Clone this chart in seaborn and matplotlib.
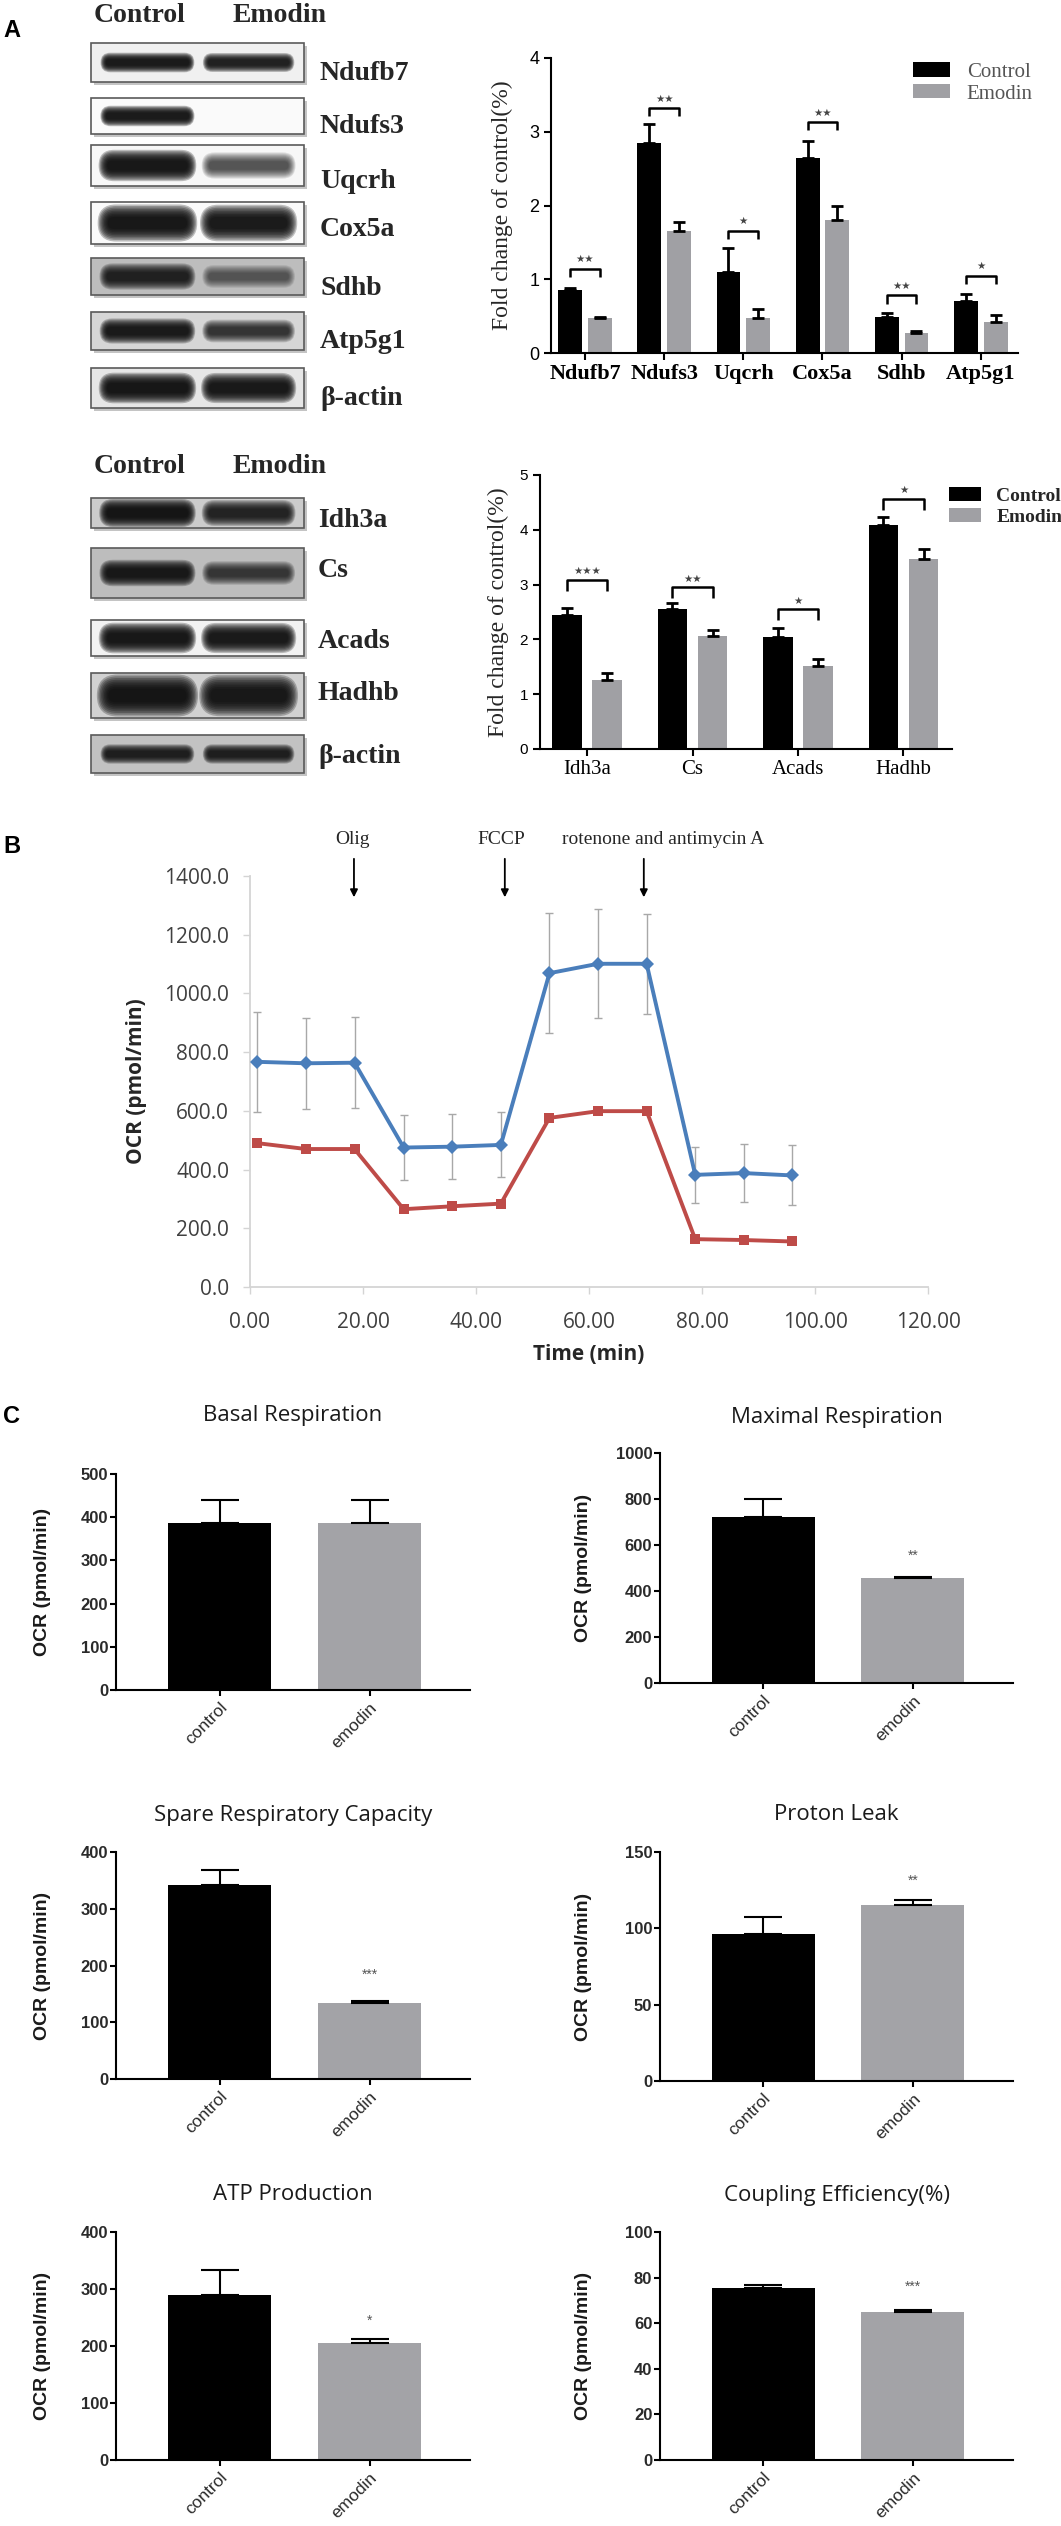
import numpy as np
import pandas as pd
import matplotlib
matplotlib.use('Agg')
import matplotlib.pyplot as plt
import seaborn as sns
from matplotlib.patches import Rectangle, FancyBboxPatch

sns.set_theme(style='white')
SERIF = ['Liberation Serif', 'DejaVu Serif']
SANS = ['Liberation Sans', 'DejaVu Sans']
OPEN = ['Open Sans', 'DejaVu Sans']
plt.rcParams['font.family'] = SANS

# ---------------- data ----------------
groups = ['Control', 'Emodin']

etc_proteins = ['Ndufb7', 'Ndufs3', 'Uqcrh', 'Cox5a', 'Sdhb', 'Atp5g1']
etc_control = [0.85, 2.85, 1.10, 2.65, 0.49, 0.71]
etc_control_err = [0.03, 0.25, 0.33, 0.23, 0.05, 0.09]
etc_emodin = [0.48, 1.65, 0.47, 1.80, 0.27, 0.42]
etc_emodin_err = [0.01, 0.13, 0.13, 0.20, 0.03, 0.10]
etc_bracket = [1.14, 3.32, 1.66, 3.13, 0.78, 1.05]
etc_stars = ['**', '**', '*', '**', '**', '*']

tca_proteins = ['Idh3a', 'Cs', 'Acads', 'Hadhb']
tca_control = [2.44, 2.56, 2.04, 4.08]
tca_control_err = [0.13, 0.10, 0.16, 0.15]
tca_emodin = [1.26, 2.06, 1.51, 3.47]
tca_emodin_err = [0.13, 0.11, 0.14, 0.18]
tca_bracket = [3.08, 2.95, 2.55, 4.56]
tca_stars = ['***', '**', '*', '*']

time_min = [1.3, 9.9, 18.5, 27.2, 35.8, 44.4, 53.0, 61.6, 70.2, 78.8, 87.4, 96.0]
ocr_control = [767, 762, 764, 475, 478, 484, 1069, 1101, 1101, 382, 388, 380]
ocr_control_err = [170, 155, 155, 112, 110, 111, 205, 185, 170, 95, 100, 102]
ocr_emodin = [490, 470, 470, 265, 275, 284, 576, 599, 599, 163, 160, 155]
inj_labels = ['Olig', 'FCCP', 'rotenone and antimycin A']
inj_times = [18.4, 45.1, 69.7]

c_titles = ['Basal Respiration', 'Maximal Respiration', 'Spare Respiratory Capacity',
            'Proton Leak', 'ATP Production', 'Coupling Efficiency(%)']
c_labels = ['control', 'emodin']
c_control = [386, 723, 341, 96.3, 289, 75.5]
c_control_err = [54, 78, 27, 11.1, 44, 1.1]
c_emodin = [387, 455, 134, 115.3, 206, 64.8]
c_emodin_err = [53, 5, 3, 3.3, 7, 0.9]
c_stars = ['', '**', '***', '**', '*', '***']
c_star_y = [0, 552, 183, 131, 245, 76]
c_ymax = [500, 1000, 400, 150, 400, 100]
c_ystep = [100, 200, 100, 50, 100, 20]

blot1_names = ['Ndufb7', 'Ndufs3', 'Uqcrh', 'Cox5a', 'Sdhb', 'Atp5g1', 'β-actin']
blot1_bg = [0.94, 0.98, 0.97, 0.98, 0.74, 0.84, 0.90]
blot1_ctrl = [0.95, 0.95, 1.0, 1.0, 0.75, 0.9, 1.0]
blot1_emod = [0.85, 0.0, 0.45, 0.95, 0.35, 0.6, 0.95]
blot2_names = ['Idh3a', 'Cs', 'Acads', 'Hadhb', 'β-actin']
blot2_bg = [0.80, 0.74, 0.95, 0.82, 0.76]
blot2_ctrl = [1.0, 0.9, 1.0, 1.0, 0.8]
blot2_emod = [0.75, 0.55, 0.95, 0.95, 0.8]

# ---------------- layout ----------------
W, H = 1061, 2526
fig = plt.figure(figsize=(W / 100, H / 100), dpi=100, facecolor='white')


def rect(x0, y0, x1, y1):
    return [x0 / W, 1 - y1 / H, (x1 - x0) / W, (y1 - y0) / H]


ov = fig.add_axes([0, 0, 1, 1])
ov.set_xlim(0, W)
ov.set_ylim(H, 0)
ov.axis('off')

for lab, x, y in [('A', 3, 37), ('B', 3, 853), ('C', 3, 1423)]:
    ov.text(x, y, lab, ha='left', va='baseline', family=SANS, weight='bold', size=17, color='black')


def band(xa, xb, yc, bh, inten):
    if inten <= 0:
        return
    xc = (xa + xb) / 2
    scales = np.linspace(1.7, 0.55, 9)
    for sc in scales:
        hh = bh * sc
        ww = (xb - xa) + (sc - 1) * bh * 0.8
        ov.add_patch(FancyBboxPatch((xc - ww / 2, yc - hh / 2), ww, hh,
                                    boxstyle=f'round,pad=0,rounding_size={hh / 2:.2f}',
                                    facecolor='#0a0a0a', edgecolor='none',
                                    alpha=0.26 * inten, zorder=3))


def blot(x0, y0, x1, y1, bg, ci, ei, thick):
    ov.add_patch(Rectangle((x0 + 3, y0 + 3), x1 - x0, y1 - y0, facecolor='#c4c4c4', edgecolor='none', zorder=1))
    ov.add_patch(Rectangle((x0, y0), x1 - x0, y1 - y0, facecolor=str(bg), edgecolor='#5a5a5a', lw=1.2, zorder=2))
    w = x1 - x0
    h = y1 - y0
    yc = (y0 + y1) / 2
    band(x0 + 0.06 * w, x0 + 0.47 * w, yc, h * thick * (0.7 + 0.3 * ci), ci)
    band(x0 + 0.54 * w, x0 + 0.94 * w, yc, h * thick * (0.7 + 0.3 * ei), ei)


blot1_y = [(43, 82), (98, 134), (145, 186), (202, 244), (258, 295), (312, 350), (368, 408)]
blot1_base = [80, 133, 188, 236, 295, 348, 405]
blot1_thick = [0.3, 0.34, 0.45, 0.52, 0.45, 0.4, 0.45]
blot2_y = [(498, 528), (548, 598), (620, 656), (673, 718), (735, 773)]
blot2_base = [527, 577, 648, 700, 763]
blot2_thick = [0.55, 0.32, 0.5, 0.55, 0.32]

for hy in [22, 473]:
    ov.text(140, hy, 'Control', ha='center', va='baseline', family=SERIF, weight='bold', size=20)
    ov.text(280, hy, 'Emodin', ha='center', va='baseline', family=SERIF, weight='bold', size=20)

for i, name in enumerate(blot1_names):
    y0, y1 = blot1_y[i]
    blot(91, y0, 304, y1, blot1_bg[i], blot1_ctrl[i], blot1_emod[i], blot1_thick[i])
    ov.text(320, blot1_base[i], name, ha='left', va='baseline', family=SERIF, weight='bold', size=20)
for i, name in enumerate(blot2_names):
    y0, y1 = blot2_y[i]
    blot(91, y0, 304, y1, blot2_bg[i], blot2_ctrl[i], blot2_emod[i], blot2_thick[i])
    ov.text(318, blot2_base[i], name, ha='left', va='baseline', family=SERIF, weight='bold', size=20)

pal = {'Control': 'black', 'Emodin': '#A0A0A4'}


def style_axes(ax, lw=1.5):
    sns.despine(ax=ax)
    for s in ['left', 'bottom']:
        ax.spines[s].set_linewidth(lw)
        ax.spines[s].set_color('black')
    ax.tick_params(axis='both', direction='out', length=5, width=lw, color='black',
                   bottom=True, left=True, labelcolor='black')


def grouped(ax, prots, ctrl, cerr, emod, eerr, brk, stars, width, gap, d, soff):
    df = pd.DataFrame({'protein': prots * 2, 'group': ['Control'] * len(prots) + ['Emodin'] * len(prots),
                       'value': ctrl + emod})
    sns.barplot(data=df, x='protein', y='value', hue='group', hue_order=groups, palette=pal,
                width=width, gap=gap, errorbar=None, saturation=1, linewidth=0, ax=ax)
    bc, be = ax.containers[0], ax.containers[1]
    xc = [b.get_x() + b.get_width() / 2 for b in bc]
    xe = [b.get_x() + b.get_width() / 2 for b in be]
    ax.errorbar(xc, ctrl, yerr=[np.zeros(len(ctrl)), cerr], fmt='none', ecolor='black',
                elinewidth=2, capsize=4.5, capthick=2, zorder=4)
    ax.errorbar(xe, emod, yerr=[np.zeros(len(emod)), eerr], fmt='none', ecolor='black',
                elinewidth=2, capsize=4.5, capthick=2, zorder=4)
    for i in range(len(prots)):
        hgt = brk[i]
        ax.plot([xc[i], xc[i], xe[i], xe[i]], [hgt - d, hgt, hgt, hgt - d], color='black', lw=1.8,
                solid_capstyle='butt', zorder=4)
        ax.text((xc[i] + xe[i]) / 2, hgt + soff, '★' * len(stars[i]), ha='center', va='center',
                family=['DejaVu Sans'], size=7.5, color='#444444')
    style_axes(ax)
    ax.set_xlabel('')
    return ax


# ---- A1 ----
ax1 = fig.add_axes(rect(551, 58, 1018, 353))
grouped(ax1, etc_proteins, etc_control, etc_control_err, etc_emodin, etc_emodin_err,
        etc_bracket, etc_stars, 0.75, 0.2, 0.11, 0.13)
ax1.set_xlim(-0.43, 5.47)
ax1.set_ylim(0, 4)
ax1.set_yticks(range(0, 5))
ax1.set_yticklabels([str(v) for v in range(0, 5)], fontfamily=SANS, fontsize=13)
ax1.set_xticks(range(len(etc_proteins)))
ax1.set_xticklabels(etc_proteins, fontfamily=SERIF, fontweight='bold', fontsize=16)
ax1.tick_params(axis='x', pad=3)
ax1.set_ylabel('Fold change of control(%)', fontfamily=SERIF, fontsize=17)
ax1.yaxis.set_label_coords(-0.103, 0.5)
ax1.yaxis.label.set_va('center')
hd, lb = ax1.get_legend_handles_labels()
ax1.legend(hd, lb, loc='upper left', bbox_to_anchor=(0.775, 0.985), frameon=False,
           prop=dict(family=SERIF, size=15), labelcolor='#555555', handlelength=1.78,
           handleheight=0.67, handletextpad=0.8, labelspacing=0.12, borderpad=0, borderaxespad=0)

# ---- A2 ----
ax2 = fig.add_axes(rect(540, 475, 952, 749))
grouped(ax2, tca_proteins, tca_control, tca_control_err, tca_emodin, tca_emodin_err,
        tca_bracket, tca_stars, 0.76, 0.26, 0.2, 0.16)
ax2.set_xlim(-0.446, 3.46)
ax2.set_ylim(0, 5)
ax2.set_yticks(range(0, 6))
ax2.set_yticklabels([str(v) for v in range(0, 6)], fontfamily=SANS, fontsize=11)
ax2.set_xticks(range(len(tca_proteins)))
ax2.set_xticklabels(tca_proteins, fontfamily=SERIF, fontsize=15)
ax2.tick_params(axis='x', pad=3)
ax2.set_ylabel('Fold change of control(%)', fontfamily=SERIF, fontsize=17)
ax2.yaxis.set_label_coords(-0.102, 0.5)
ax2.yaxis.label.set_va('center')
hd, lb = ax2.get_legend_handles_labels()
ax2.legend(hd, lb, loc='upper left', bbox_to_anchor=(0.993, 0.955), frameon=False,
           prop=dict(family=SERIF, size=14, weight='bold'), handlelength=1.65,
           handleheight=0.67, handletextpad=0.77, labelspacing=0.19, borderpad=0, borderaxespad=0)

# ---- B ----
axB = fig.add_axes(rect(250, 876, 928, 1287))
axB.errorbar(time_min, ocr_control, yerr=ocr_control_err, fmt='none', ecolor='#A8A8A8',
             elinewidth=1, capsize=3, capthick=1, zorder=1)
dfB = pd.DataFrame({'time': time_min * 2, 'ocr': ocr_control + ocr_emodin,
                    'group': ['Control'] * len(time_min) + ['Emodin'] * len(time_min)})
sns.lineplot(data=dfB, x='time', y='ocr', hue='group', style='group', hue_order=groups,
             markers={'Control': 'D', 'Emodin': 's'}, dashes=False, errorbar=None,
             palette={'Control': '#4A7EBB', 'Emodin': '#BE4B48'}, lw=2.8, markersize=7.5,
             markeredgewidth=0, legend=False, ax=axB, zorder=3)
axB.set_xlim(0, 120)
axB.set_ylim(0, 1400)
axB.set_xticks(np.arange(0, 121, 20))
axB.set_xticklabels([f'{v:.2f}' for v in np.arange(0, 121, 20)], fontfamily=OPEN, fontsize=15)
axB.set_yticks(np.arange(0, 1401, 200))
axB.set_yticklabels([f'{v:.1f}' for v in np.arange(0, 1401, 200)], fontfamily=OPEN, fontsize=15)
sns.despine(ax=axB)
for s in ['left', 'bottom']:
    axB.spines[s].set_color('#D4D4D4')
    axB.spines[s].set_linewidth(1.3)
axB.tick_params(axis='both', direction='out', length=5, width=1, color='#D4D4D4',
                labelcolor='#404040', bottom=True, left=True)
axB.tick_params(axis='x', pad=13)
axB.tick_params(axis='y', pad=10)
axB.set_xlabel('Time (min)', fontfamily=OPEN, fontweight='bold', fontsize=15, color='#262626')
axB.xaxis.set_label_coords(0.5, -0.165)
axB.xaxis.label.set_va('center')
axB.set_ylabel('OCR (pmol/min)', fontfamily=OPEN, fontweight='bold', fontsize=15, color='#262626')
axB.yaxis.set_label_coords(-0.167, 0.5)
axB.yaxis.label.set_va('center')
inj_label_x = [18.2, 44.4, 73.1]
for t, lx, lab in zip(inj_times, inj_label_x, inj_labels):
    axB.annotate('', xy=(t, 1318), xytext=(t, 1468), annotation_clip=False,
                 arrowprops=dict(arrowstyle='-|>', color='black', lw=1.3, mutation_scale=11))
    axB.text(lx, 1523, lab, ha='center', va='center', family=SERIF, size=14, clip_on=False)

# ---- C ----
c_rects = [(116, 1474, 470, 1690), (660, 1453, 1013, 1683), (116, 1852, 470, 2079),
           (660, 1852, 1013, 2081), (116, 2232, 470, 2460), (660, 2232, 1013, 2460)]
c_title_y = [1416, 1417, 1815, 1815, 2195, 2195]
c_ylab_x = [42, 583, 42, 583, 42, 583]
for i in range(6):
    x0, y0, x1, y1 = c_rects[i]
    ax = fig.add_axes(rect(x0, y0, x1, y1))
    dfc = pd.DataFrame({'group': c_labels, 'value': [c_control[i], c_emodin[i]]})
    sns.barplot(data=dfc, x='group', y='value', hue='group', hue_order=c_labels,
                palette={'control': 'black', 'emodin': '#A3A3A7'}, width=0.69, errorbar=None,
                legend=False, saturation=1, linewidth=0, ax=ax)
    ax.errorbar([0, 1], [c_control[i], c_emodin[i]],
                yerr=[[0, 0], [c_control_err[i], c_emodin_err[i]]], fmt='none', ecolor='black',
                elinewidth=1.5, capsize=14, capthick=1.5, zorder=4)
    if c_stars[i]:
        ax.text(1, c_star_y[i], c_stars[i], ha='center', va='center', family=SANS, size=10, color='#555555')
    ax.set_xlim(-0.69, 1.67)
    ax.set_ylim(0, c_ymax[i])
    ticks = np.arange(0, c_ymax[i] + 1, c_ystep[i])
    ax.set_yticks(ticks)
    ax.set_yticklabels([str(int(v)) for v in ticks], fontfamily=SANS, fontsize=12,
                       fontweight='bold', color='#2a2a2a')
    ax.set_xticks([0, 1])
    ax.set_xticklabels(c_labels, fontfamily=SANS, fontsize=12.5, rotation=45, ha='right',
                       rotation_mode='anchor', color='#2a2a2a')
    style_axes(ax)
    ax.tick_params(axis='both', length=4)
    ax.tick_params(axis='y', pad=1.5, labelcolor='#2a2a2a')
    ax.tick_params(axis='x', pad=3, labelcolor='#2a2a2a')
    ax.set_xlabel('')
    ax.set_ylabel('OCR (pmol/min)', fontfamily=SANS, fontweight='bold', fontsize=14, color='#1a1a1a')
    ax.yaxis.set_label_coords((c_ylab_x[i] - x0) / (x1 - x0), 0.5)
    ax.yaxis.label.set_va('center')
    ax.set_title(c_titles[i], fontfamily=OPEN, fontsize=16, color='#1a1a1a',
                 y=(y1 - c_title_y[i]) / (y1 - y0), va='center', pad=0)

fig.savefig('out.png', dpi=100, facecolor='white')
